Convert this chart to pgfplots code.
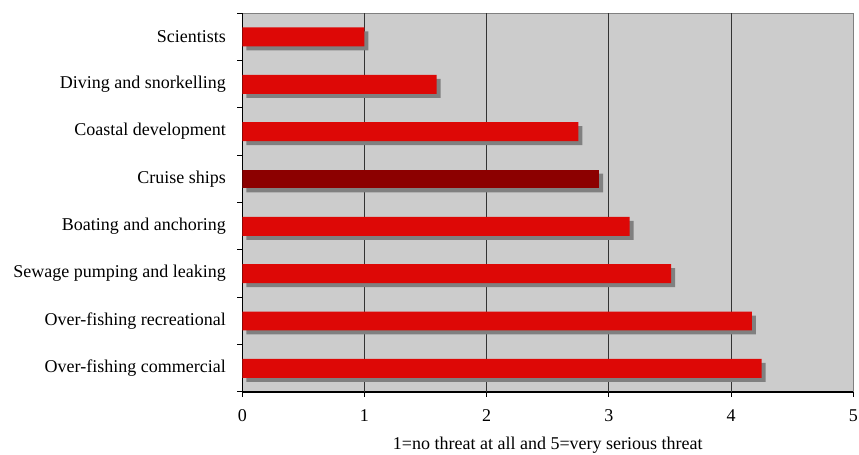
\documentclass[border=0pt]{standalone}
\usepackage{fontspec}
\setmainfont{Liberation Serif}
\usepackage{pgfplots}
\pgfplotsset{compat=1.18}
\usetikzlibrary{calc}
\definecolor{barred}{RGB}{221,8,6}
\definecolor{darkbar}{RGB}{140,0,0}
\definecolor{shadowgray}{RGB}{128,128,128}
\definecolor{plotbg}{RGB}{204,204,204}
\begin{document}
\begin{tikzpicture}
\begin{axis}[
  scale only axis,
  width=611bp, height=378.7bp,
  xmin=0, xmax=5, ymin=-0.5, ymax=7.5,
  xbar, bar width=0.4, bar shift=0pt,
  axis x line*=bottom, axis y line*=left,
  axis line style={black, line width=1.2bp},
  axis background/.style={fill=plotbg, draw=shadowgray, line width=1.5bp},
  xtick={0,...,5},
  extra x ticks={1,2,3,4},
  extra x tick labels={},
  extra x tick style={grid=major, major tick length=0pt},
  grid style={black!80, line width=1bp},
  ytick={-0.5,0.5,...,7.5},
  yticklabels={},
  extra y ticks={0,1,2,3,4,5,6,7},
  extra y tick labels={Over-fishing commercial,Over-fishing recreational,Sewage pumping and leaking,Boating and anchoring,Cruise ships,Coastal development,Diving and snorkelling,Scientists},
  extra y tick style={major tick length=0pt},
  tick align=outside,
  major tick length=5bp,
  tick style={black, line width=1bp},
  /pgf/number format/assume math mode=true,
  tick label style={font=\fontsize{18bp}{21bp}\selectfont},
  label style={font=\fontsize{18bp}{21bp}\selectfont},
  yticklabel style={xshift=-13bp},
  xticklabel style={yshift=-9bp},
  xlabel={1=no threat at all and 5=very serious threat},
  xlabel style={yshift=-4bp},
]
\addplot[fill=shadowgray, draw=none, xshift=4bp, yshift=-4bp] coordinates {
  (4.25,0) (4.17,1) (3.51,2) (3.17,3) (2.92,4) (2.75,5) (1.59,6) (1.00,7)};
\addplot[fill=barred, draw=none] coordinates {
  (4.25,0) (4.17,1) (3.51,2) (3.17,3) (2.75,5) (1.59,6) (1.00,7)};
\addplot[fill=darkbar, draw=none] coordinates {(2.92,4)};
\end{axis}
\pgfresetboundingbox
\path[use as bounding box] ($(current axis.south west)+(-242.3bp,-63bp)$) rectangle ($(current axis.north east)+(5.7bp,13.3bp)$);
\end{tikzpicture}
\end{document}
